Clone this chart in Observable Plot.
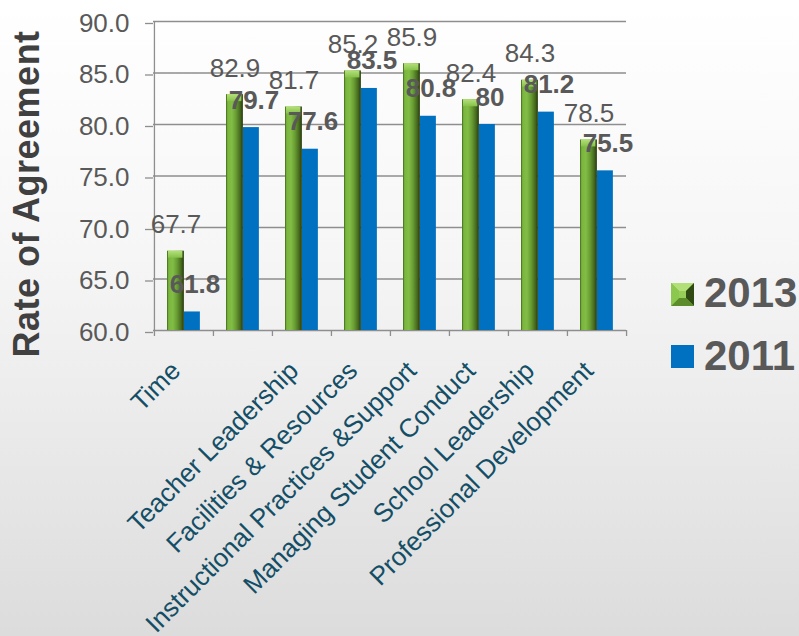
<!DOCTYPE html>
<html><head><meta charset="utf-8">
<script src="https://cdn.jsdelivr.net/npm/d3@7"></script>
<script src="https://cdn.jsdelivr.net/npm/@observablehq/plot@0.6"></script>
<style>
html,body{margin:0;padding:0;}
body{width:799px;height:636px;overflow:hidden;background:linear-gradient(180deg,#ffffff 0%,#f6f6f6 40%,#e9e9e9 70%,#dcdcdc 100%);font-family:"Liberation Sans",Arial,sans-serif;}
#wrap{position:relative;width:799px;height:636px;}
#wrap svg.main{position:absolute;left:0;top:0;}
#ytitle{position:absolute;left:27px;top:194px;transform:translate(-50%,-50%) rotate(-90deg);white-space:nowrap;font-weight:bold;font-size:36px;line-height:1;color:#404040;letter-spacing:0.5px;}
.legtext{position:absolute;left:704px;font-weight:bold;font-size:42px;line-height:42px;color:#595959;white-space:nowrap;}
#wrap svg.sw{position:absolute;left:671px;width:23px;height:23px;}
</style></head>
<body><div id="wrap"></div>
<script>
const categories = ["Time", "", "Teacher Leadership", "Facilities & Resources", "Instructional Practices &Support", "Managing Student Conduct", "School Leadership", "Professional Development"];
const series = ["2013", "2011"];
const v2013 = [67.7, 82.9, 81.7, 85.2, 85.9, 82.4, 84.3, 78.5];
const v2011 = [61.8, 79.7, 77.6, 83.5, 80.8, 80, 81.2, 75.5];
const yTicks = [60, 65, 70, 75, 80, 85, 90];
const yTitle = "Rate of Agreement";

const W = 799, H = 636, mL = 153, mR = 173, mT = 21, mB = 306;
const n = categories.length;
const bw = (W - mL - mR) / n;
const idx = d3.range(n);
const rows13 = v2013.map((v, i) => ({i, v, s: series[0]}));
const rows11 = v2011.map((v, i) => ({i, v, s: series[1]}));

const gridColor = "#8e8e8e";

function defs() {
  const d = d3.create("svg:defs");
  const g = d.append("linearGradient").attr("id", "g13").attr("x1", 0).attr("x2", 1).attr("y1", 0).attr("y2", 0);
  [[0, "#3f6418"], [0.1, "#7ab53e"], [0.35, "#82bd46"], [0.6, "#679b32"], [0.85, "#44661d"], [1, "#26390c"]]
    .forEach(([o, c]) => g.append("stop").attr("offset", o).attr("stop-color", c));
  const c = d.append("linearGradient").attr("id", "cap").attr("x1", 0).attr("x2", 0).attr("y1", 0).attr("y2", 1);
  [[0, "#b4e07a"], [1, "#86c249"]].forEach(([o, col]) => c.append("stop").attr("offset", o).attr("stop-color", col));
  return d.node();
}

const chart = Plot.plot({
  width: W, height: H,
  marginLeft: mL, marginRight: mR, marginTop: mT, marginBottom: mB,
  style: {background: "transparent", fontFamily: "Liberation Sans, Arial, sans-serif", overflow: "visible"},
  x: {type: "band", domain: idx, padding: 0, axis: null},
  y: {domain: [60, 90], axis: null},
  marks: [
    defs,
    Plot.gridY(yTicks, {stroke: gridColor, strokeOpacity: 1, strokeWidth: 1.3}),
    Plot.axisY(yTicks, {tickFormat: d => d.toFixed(1), tickSize: 8, tickPadding: 16, fontSize: 26, fill: "#595959", stroke: gridColor, strokeWidth: 1.3, dy: 2, label: null}),
    Plot.ruleX([0], {x: d => d, dx: -bw / 2, y1: 60, y2: 90, stroke: gridColor, strokeWidth: 1.3}),
    Plot.ruleX(idx, {x: d => d, dx: -bw / 2, y1: 60, y2: 60, insetTop: 6, stroke: gridColor, strokeWidth: 1.3}),
    Plot.ruleX([n - 1], {x: d => d, dx: bw / 2, y1: 60, y2: 60, insetTop: 6, stroke: gridColor, strokeWidth: 1.3}),
    Plot.axisX(idx, {tickFormat: i => categories[i], tickRotate: -45, tickSize: 0, tickPadding: 36, dx: -8, fontSize: 26, fill: "#134E66", label: null}),
    Plot.barY(rows13, {x: "i", y1: 60, y2: "v", insetLeft: 13, insetRight: bw - 30, fill: "url(#g13)"}),
    Plot.barY(rows13, {x: "i", y1: "v", y2: "v", insetLeft: 14, insetRight: bw - 28.5, insetBottom: -7, fill: "url(#cap)"}),
    Plot.barY(rows11, {x: "i", y1: 60, y2: "v", insetLeft: 30, insetRight: bw - 46, fill: "#0070C0"}),
    Plot.text(rows13, {x: "i", y: "v", text: d => String(d.v), dx: -8, dy: -18, lineAnchor: "bottom", fontSize: 26, fill: "#595959"}),
    Plot.text(rows11, {x: "i", y: "v", text: d => String(d.v), dx: 11, dy: -19, lineAnchor: "bottom", fontSize: 26, fontWeight: "bold", fill: "#595959"})
  ]
});
chart.classList.add("main");

const wrap = document.getElementById("wrap");
wrap.appendChild(chart);

const t = document.createElement("div");
t.id = "ytitle"; t.textContent = yTitle;
wrap.appendChild(t);

const legTops = [272, 335];
const swTops = [283, 345];
series.forEach((s, k) => {
  const sw = document.createElementNS("http://www.w3.org/2000/svg", "svg");
  sw.setAttribute("class", "sw");
  sw.setAttribute("viewBox", "0 0 23 23");
  sw.setAttribute("width", "23");
  sw.setAttribute("height", "23");
  sw.style.top = swTops[k] + "px";
  if (k === 0) {
    sw.innerHTML = '<rect width="23" height="23" fill="#7fb842"/>' +
      '<polygon points="0,0 23,0 15,8 8,8" fill="#b2df78"/>' +
      '<polygon points="23,0 23,23 15,15 15,8" fill="#2f4a12"/>' +
      '<polygon points="0,23 23,23 15,15 8,15" fill="#5d8d2a"/>' +
      '<polygon points="0,0 0,23 8,15 8,8" fill="#8cc84e"/>' +
      '<rect x="8" y="8" width="7" height="7" fill="#96cf58"/>';
  } else {
    sw.innerHTML = '<rect width="23" height="23" fill="#0070C0"/>';
  }
  wrap.appendChild(sw);
  const lt = document.createElement("div");
  lt.className = "legtext";
  lt.style.top = legTops[k] + "px";
  lt.textContent = s;
  wrap.appendChild(lt);
});
</script>
</body></html>
